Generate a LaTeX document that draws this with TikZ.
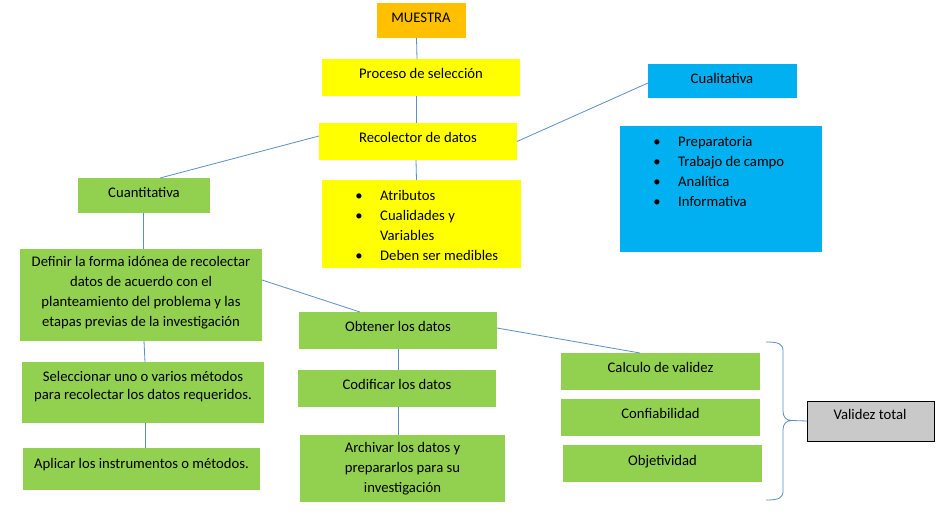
\documentclass[tikz,border=0pt]{standalone}
\usepackage{fontspec}
\setmainfont{Carlito}
\definecolor{orng}{HTML}{FFC000}
\definecolor{yel}{HTML}{FFFF00}
\definecolor{sky}{HTML}{00B0F0}
\definecolor{grn}{HTML}{92D050}
\definecolor{gry}{HTML}{C9C9C9}
\definecolor{lnk}{HTML}{5B8FC9}
\begin{document}
\begin{tikzpicture}[x=1pt,y=-1pt,
  box/.style={draw=none, inner sep=0pt, outer sep=0pt},
  txt/.style={font=\fontsize{14.67}{20}\selectfont, inner sep=0pt, align=center},
  one/.style={txt, text height=11.5pt, text depth=0pt},
  link/.style={draw=lnk, line width=0.8pt}]
\fill[white] (0,0) rectangle (948,519);
\useasboundingbox (0,0) rectangle (948,519);

% boxes
\node[box, fill=orng, minimum width=89pt, minimum height=35pt] (muestra) at (421.5,20.5) {};
\node[box, fill=yel, minimum width=198pt, minimum height=37pt] (proc) at (421,77.5) {};
\node[box, fill=yel, minimum width=198pt, minimum height=37pt] (recol) at (418,141.5) {};
\node[box, fill=yel, minimum width=199pt, minimum height=88pt] (attr) at (421.5,224) {};
\node[box, fill=sky, minimum width=149pt, minimum height=34pt] (cuali) at (722.5,81) {};
\node[box, fill=sky, minimum width=202pt, minimum height=126pt] (etapas) at (721,189) {};
\node[box, fill=grn, minimum width=132pt, minimum height=35pt] (cuant) at (144,195.5) {};
\node[box, fill=grn, minimum width=242pt, minimum height=92pt] (definir) at (141,295) {};
\node[box, fill=grn, minimum width=242pt, minimum height=61pt] (selec) at (143,392.5) {};
\node[box, fill=grn, minimum width=237pt, minimum height=42pt] (aplicar) at (141.5,469) {};
\node[box, fill=grn, minimum width=198pt, minimum height=37pt] (obtener) at (398,330.5) {};
\node[box, fill=grn, minimum width=198pt, minimum height=37pt] (codif) at (397,388.5) {};
\node[box, fill=grn, minimum width=205pt, minimum height=67pt] (archivar) at (402.5,468.5) {};
\node[box, fill=grn, minimum width=199pt, minimum height=37pt] (calc) at (660.5,371.5) {};
\node[box, fill=grn, minimum width=199pt, minimum height=37pt] (conf) at (660.5,417.5) {};
\node[box, fill=grn, minimum width=199pt, minimum height=37pt] (obj) at (662.5,463.5) {};
\node[box, fill=gry, draw=black, line width=0.9pt, minimum width=127pt, minimum height=40pt] (valid) at (870.5,421) {};

% texts
\node[one] (tmuestra) at (421,17) {MUESTRA};
\node[one] (tproc) at (421,73) {Proceso de selección};
\node[one] (trecol) at (418,137) {Recolector de datos};
\node[one] (tcuali) at (722,78) {Cualitativa};
\node[one] (tcuant) at (144,192) {Cuantitativa};
\node[txt] (tdefinir) at (141,292.5) {Definir la forma idónea de recolectar\\datos de acuerdo con el\\planteamiento del problema y las\\etapas previas de la investigación};
\node[txt, font=\fontsize{14.67}{18}\selectfont] (tselec) at (143,387) {Seleccionar uno o varios métodos\\para recolectar los datos requeridos.};
\node[one] (taplicar) at (141.5,463) {Aplicar los instrumentos o métodos.};
\node[one] (tobtener) at (398,326) {Obtener los datos};
\node[one] (tcodif) at (397,384) {Codificar los datos};
\node[txt] (tarchivar) at (402.5,469) {Archivar los datos y\\prepararlos para su\\investigación};
\node[one] (tcalc) at (660.5,367) {Calculo de validez};
\node[one] (tconf) at (660.5,413) {Confiabilidad};
\node[one] (tobj) at (662.5,460) {Objetividad};
\node[one] (tvalid) at (870,414) {Validez total};

% yellow bullet list
\node[one] (ab1) at (359,195) {\textbullet};
\node[one] (ab2) at (359,215) {\textbullet};
\node[one] (ab4) at (359,255) {\textbullet};
\node[one, anchor=west] (at1) at (380,195) {Atributos};
\node[one, anchor=west] (at2) at (380,215) {Cualidades y};
\node[one, anchor=west] (at3) at (380,235) {Variables};
\node[one, anchor=west] (at4) at (380,255) {Deben ser medibles};

% blue bullet list
\node[one] (eb1) at (657,141) {\textbullet};
\node[one] (eb2) at (657,161) {\textbullet};
\node[one] (eb3) at (657,181) {\textbullet};
\node[one] (eb4) at (657,201) {\textbullet};
\node[one, anchor=west] (et1) at (678,141) {Preparatoria};
\node[one, anchor=west] (et2) at (678,161) {Trabajo de campo};
\node[one, anchor=west] (et3) at (678,181) {Analítica};
\node[one, anchor=west] (et4) at (678,201) {Informativa};

% connectors
\draw[link] ([xshift=-5pt]muestra.south) -- ([xshift=-4pt]proc.north);
\draw[link] ([xshift=-5pt]proc.south) -- ([xshift=-2pt]recol.north);
\draw[link] ([xshift=-2pt]recol.south) -- ([xshift=-5pt]attr.north);
\draw[link] (recol.east) -- ([yshift=-2pt]cuali.west);
\draw[link] ([yshift=5.5pt]recol.west) -- ([xshift=16pt]cuant.north);
\draw[link] ([xshift=-1pt]cuant.south) -- ([xshift=2pt]definir.north);
\draw[link] ([xshift=3pt]definir.south) -- ([xshift=2pt]selec.north);
\draw[link] ([xshift=2pt]selec.south) -- ([xshift=3.5pt]aplicar.north);
\draw[link] ([yshift=15pt]definir.east) -- ([xshift=-38pt]obtener.north);
\draw[link] ([yshift=2.5pt]obtener.east) -- ([xshift=-20.5pt]calc.north);
\draw[link] (obtener.south) -- ([xshift=1pt]codif.north);
\draw[link] ([xshift=1pt]codif.south) -- ([xshift=-4.5pt]archivar.north);

% brace
\coordinate (bt) at (766,342);
\coordinate (bb) at (766,500);
\coordinate (bm) at (792,420.5);
\draw[link] (bt) .. controls (779,342) and (783,344) .. (783,351) -- (783,411)
  .. controls (783,417) and (786,420.5) .. (bm)
  .. controls (786,420.5) and (783,424) .. (783,430) -- (783,491)
  .. controls (783,498) and (779,500) .. (bb);
\draw[link] (bm) -- (valid.west);
\end{tikzpicture}
\end{document}
